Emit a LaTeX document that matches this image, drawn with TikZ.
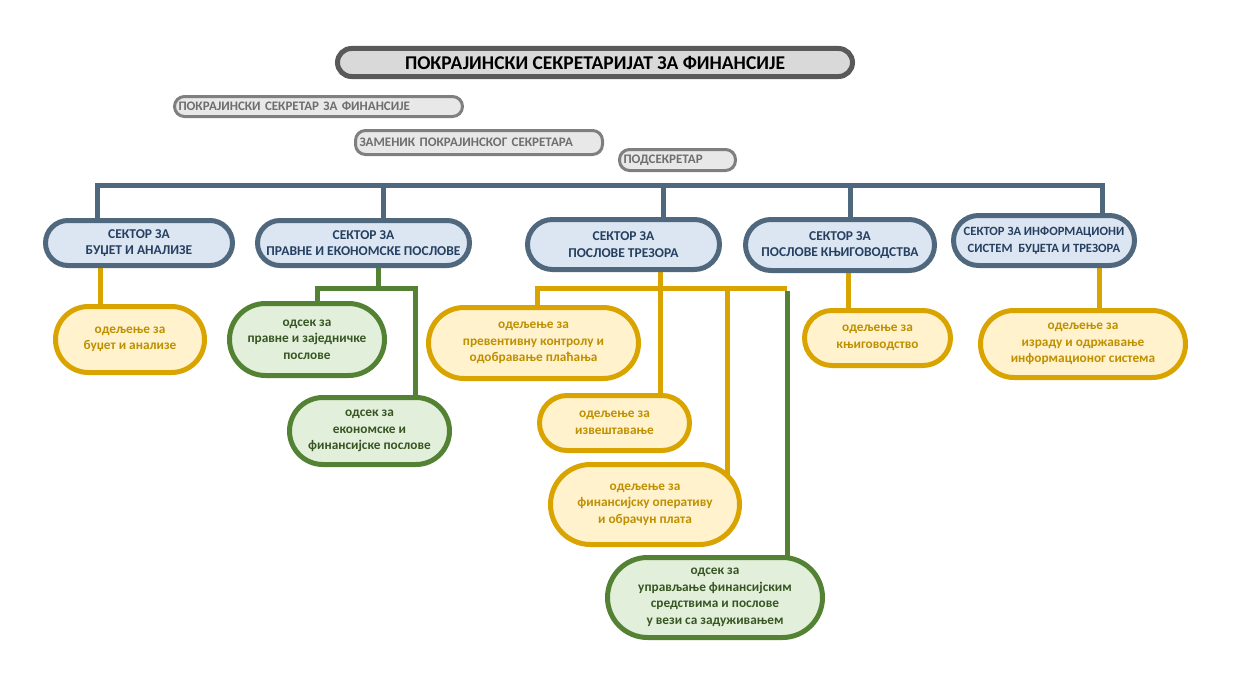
\documentclass[tikz,border=0pt]{standalone}
\usepackage{fontspec}
\setmainfont{Carlito}
\usetikzlibrary{shapes.misc,backgrounds}
\definecolor{secline}{HTML}{50687E}
\definecolor{secfill}{HTML}{DCE6F2}
\definecolor{sectext}{HTML}{254061}
\definecolor{yline}{HTML}{D9A400}
\definecolor{yfill}{HTML}{FFF2CC}
\definecolor{ytext}{HTML}{BF9000}
\definecolor{gline}{HTML}{548235}
\definecolor{gfill}{HTML}{E2EFDA}
\definecolor{gtext}{HTML}{375623}
\definecolor{titleline}{HTML}{595959}
\definecolor{titlefill}{HTML}{D9D9D9}
\definecolor{grayline}{HTML}{7F7F7F}
\definecolor{grayfill}{HTML}{E8E8E8}
\definecolor{graytext}{HTML}{6E6E6E}
\begin{document}
\begin{tikzpicture}[x=1pt,y=-1pt,
  box/.style={rounded rectangle, line width=5pt, align=center, inner sep=0pt,
    font=\bfseries\fontsize{13.3}{16.5}\selectfont},
  sector/.style={box, draw=secline, fill=secfill, text=sectext,
    font=\bfseries\fontsize{13.5}{16.5}\selectfont},
  ybox/.style={box, draw=yline, fill=yfill, text=ytext},
  gbox/.style={box, draw=gline, fill=gfill, text=gtext},
  titlebox/.style={rectangle, rounded corners=14pt, line width=5pt, draw=titleline, fill=titlefill,
    text=black, align=center, inner sep=0pt, font=\bfseries\fontsize{19.5}{22}\selectfont},
  graybox/.style={rectangle, rounded corners=10pt, line width=3pt, draw=grayline, fill=grayfill,
    text=graytext, align=left, inner ysep=0pt, inner xsep=4pt, font=\bfseries\fontsize{13}{15}\selectfont},
  busline/.style={line width=5pt, draw=secline},
  yconn/.style={line width=5pt, draw=yline},
  gconn/.style={line width=5pt, draw=gline},
]
\path[use as bounding box] (0,0) rectangle (1238,677);

% top boxes
\node[titlebox, minimum width=515, minimum height=28] (title) at (595,62.5) {ПОКРАЈИНСКИ СЕКРЕТАРИЈАТ ЗА ФИНАНСИЈЕ};
\node[graybox, text width=280, minimum height=20] (sek) at (318.5,106.5) {ПОКРАЈИНСКИ СЕКРЕТАР ЗА ФИНАНСИЈЕ};
\node[graybox, text width=239, minimum height=24] (zam) at (479,142.5) {ЗАМЕНИК ПОКРАЈИНСКОГ СЕКРЕТАРА};
\node[graybox, text width=108, minimum height=21] (pod) at (677.5,160) {ПОДСЕКРЕТАР};

% sectors
\node[sector, minimum width=187, minimum height=45] (bud) at (139,243) {СЕКТОР ЗА\\БУЏЕТ И АНАЛИЗЕ};
\node[sector, minimum width=212, minimum height=45] (prav) at (363.5,243) {СЕКТОР ЗА\\ПРАВНЕ И ЕКОНОМСКЕ ПОСЛОВЕ};
\node[sector, minimum width=192, minimum height=50] (trez) at (623.5,244.5) {СЕКТОР ЗА\\ПОСЛОВЕ ТРЕЗОРА};
\node[sector, minimum width=189, minimum height=51] (knj) at (840,245) {СЕКТОР ЗА\\ПОСЛОВЕ КЊИГОВОДСТВА};
\node[sector, minimum width=181, minimum height=50, font=\bfseries\fontsize{12.6}{16.5}\selectfont] (info) at (1044,240.5) {СЕКТОР ЗА ИНФОРМАЦИОНИ\\СИСТЕМ\ \ БУЏЕТА И ТРЕЗОРА};

% departments
\node[ybox, minimum width=149, minimum height=66] (ybud) at (130,339.5) {одељење за\\буџет и анализе};
\node[gbox, minimum width=155, minimum height=72] (gprav) at (307,339.5) {одсек за\\правне и заједничке\\послове};
\node[gbox, minimum width=160, minimum height=67] (gekon) at (369.5,431) {одсек за\\економске и\\финансијске послове};
\node[ybox, minimum width=210, minimum height=71] (yprev) at (533.5,343) {одељење за\\превентивну контролу и\\одобравање плаћања};
\node[ybox, minimum width=150, minimum height=55] (yizv) at (614.5,423) {одељење за\\извештавање};
\node[ybox, minimum width=189, minimum height=80] (yfin) at (645,504.5) {одељење за\\финансијску оперативу\\и обрачун плата};
\node[gbox, minimum width=215, minimum height=80] (guprav) at (715,597.5) {одсек за\\управљање финансијским\\средствима и послове\\у вези са задуживањем};
\node[ybox, minimum width=146, minimum height=55] (yknj) at (877.5,338) {одељење за\\књиговодство};
\node[ybox, minimum width=205, minimum height=67] (yinfo) at (1083,344) {одељење за\\израду и одржавање\\информационог система};

% junction coordinates
\coordinate (b1) at (97,185);
\coordinate (b2) at (383,185);
\coordinate (b3) at (663,185);
\coordinate (b4) at (850,185);
\coordinate (b5) at (1102,185);
\coordinate (yb) at (100,300);
\coordinate (gp) at (378,288);
\coordinate (gl) at (317,288);
\coordinate (gr) at (415,288);
\coordinate (tz) at (660,288);
\coordinate (tl) at (537,288);
\coordinate (tm) at (727,288);
\coordinate (tr) at (787,288);
\coordinate (kj) at (848,300);
\coordinate (in) at (1099,300);

\begin{scope}[on background layer]
\draw[busline] (bud.center -| b1) -- (b1) -- (b5) -- (info.center -| b5);
\draw[busline] (b2) -- (prav.center -| b2);
\draw[busline] (b3) -- (trez.center -| b3);
\draw[busline] (b4) -- (knj.center -| b4);
\draw[yconn] (bud.center -| yb) -- (ybud.center -| yb);
\draw[gconn] (prav.center -| gp) -- (gp);
\draw[gconn] (gprav.center -| gl) -- (gl) -- (gr) -- (gekon.center -| gr);
\draw[yconn] (trez.center -| tz) -- (yizv.center -| tz);
\draw[yconn] (yprev.center -| tl) -- (tl) -- (tr);
\draw[yconn] (tm) -- (yfin.center -| tm);
\draw[gconn] ([yshift=-2.5]tr) -- (guprav.center -| tr);
\draw[yconn] (knj.center -| kj) -- (yknj.center -| kj);
\draw[yconn] (info.center -| in) -- (yinfo.center -| in);
\end{scope}
\end{tikzpicture}
\end{document}
